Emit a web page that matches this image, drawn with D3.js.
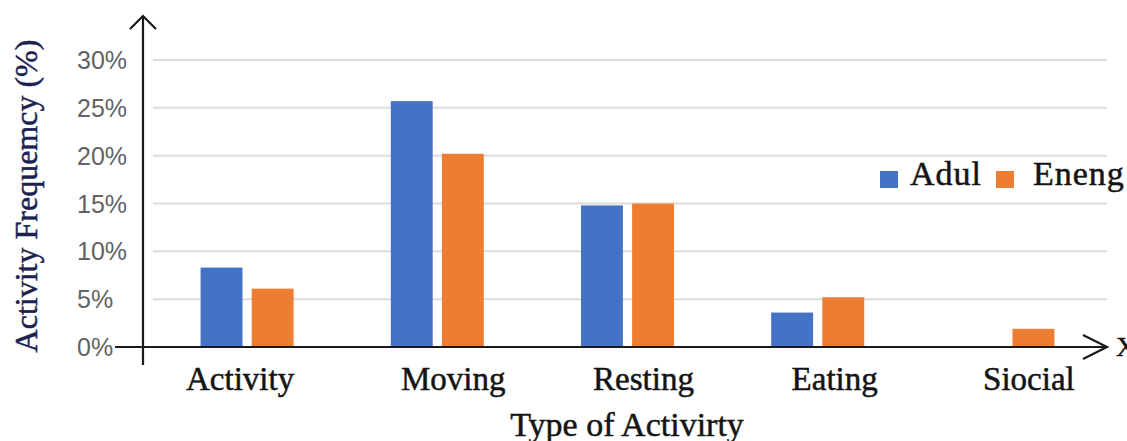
<!DOCTYPE html>
<html>
<head>
<meta charset="utf-8">
<script src="https://cdn.jsdelivr.net/npm/d3@7"></script>
<style>
  html, body { margin: 0; padding: 0; background: #fff; overflow: hidden; }
  svg { display: block; }
  .serif-label { stroke-width: 0.5px; paint-order: stroke; }
</style>
</head>
<body>
<svg id="chart" width="1127" height="441"></svg>
<script>
// Activity frequency (%) by activity type, for two groups
const categories = ["Activity", "Moving", "Resting", "Eating", "Siocial"];
const seriesNames = ["Adul", "Eneng"];
const adulValues = [8.3, 25.7, 14.8, 3.6, 0];
const enengValues = [6.1, 20.2, 15.0, 5.2, 1.9];
const yTicks = [0, 5, 10, 15, 20, 25, 30];

const colors = { Adul: "#4472C4", Eneng: "#ED7D31" };
const serif = "'Liberation Serif', 'Times New Roman', serif";
const sans = "'Liberation Sans', Arial, sans-serif";
const textColor = "#141414";

const rows = categories.map((c, i) => ({ category: c, Adul: adulValues[i], Eneng: enengValues[i] }));

const svg = d3.select("#chart");

// plot geometry
const plotLeft = 152, plotRight = 1103, plotTop = 60, plotBottom = 347;

const x0 = d3.scaleBand().domain(categories).range([plotLeft, plotRight])
  .paddingInner(0.511).paddingOuter(0.2555);
const x1 = d3.scaleBand().domain(seriesNames).range([0, x0.bandwidth()])
  .paddingInner(0.18);
const y = d3.scaleLinear().domain([0, 30]).range([plotBottom, plotTop]);

// horizontal gridlines
svg.append("g")
  .selectAll("line")
  .data(yTicks.filter(t => t > 0))
  .join("line")
  .attr("x1", plotLeft + 1).attr("x2", 1107)
  .attr("y1", d => y(d)).attr("y2", d => y(d))
  .attr("stroke", "#dcdcdc").attr("stroke-width", 2);

// y tick labels (left aligned)
svg.append("g")
  .selectAll("text")
  .data(yTicks)
  .join("text")
  .attr("x", 77)
  .attr("y", d => y(d))
  .attr("dy", "0.36em")
  .attr("font-family", sans)
  .attr("font-size", 25)
  .attr("fill", "#636363")
  .text(d => d + "%");

// bars
const groups = svg.append("g")
  .selectAll("g")
  .data(rows)
  .join("g")
  .attr("transform", d => `translate(${x0(d.category)},0)`);

groups.selectAll("rect")
  .data(d => seriesNames.map(k => ({ key: k, value: d[k] })))
  .join("rect")
  .attr("x", d => x1(d.key))
  .attr("width", x1.bandwidth())
  .attr("y", d => y(d.value))
  .attr("height", d => y(0) - y(d.value))
  .attr("fill", d => colors[d.key]);

// axes with arrowheads
const axisColor = "#1a1a1a";
svg.append("line")
  .attr("x1", 115).attr("x2", 1107)
  .attr("y1", y(0)).attr("y2", y(0))
  .attr("stroke", axisColor).attr("stroke-width", 2.2);
svg.append("polyline")
  .attr("points", `1083,${y(0) - 12} 1107,${y(0)} 1083,${y(0) + 12}`)
  .attr("fill", "none").attr("stroke", axisColor).attr("stroke-width", 2.2);

svg.append("line")
  .attr("x1", 143).attr("x2", 143)
  .attr("y1", 16).attr("y2", 365)
  .attr("stroke", axisColor).attr("stroke-width", 2.2);
svg.append("polyline")
  .attr("points", "130,29 143,16 156,29")
  .attr("fill", "none").attr("stroke", axisColor).attr("stroke-width", 2.2);

// axis end label, running off the right edge
svg.append("text")
  .attr("class", "serif-label")
  .attr("x", 1116).attr("y", 356)
  .attr("font-family", serif).attr("font-size", 28)
  .attr("fill", textColor).attr("stroke", textColor)
  .text("X");

// category labels
const labelNudge = [-7, 16, 16, 17, 21];
svg.append("g")
  .selectAll("text")
  .data(categories)
  .join("text")
  .attr("class", "serif-label")
  .attr("x", (d, i) => x0(d) + x0.bandwidth() / 2 + labelNudge[i])
  .attr("y", 390)
  .attr("text-anchor", "middle")
  .attr("font-family", serif)
  .attr("font-size", 33)
  .attr("fill", textColor).attr("stroke", textColor)
  .text(d => d);

// axis titles
svg.append("text")
  .attr("class", "serif-label")
  .attr("x", 627).attr("y", 436)
  .attr("text-anchor", "middle")
  .attr("font-family", serif).attr("font-size", 34)
  .attr("fill", textColor).attr("stroke", textColor)
  .text("Type of Activirty");

svg.append("text")
  .attr("class", "serif-label")
  .attr("transform", "translate(37,196) rotate(-90)")
  .attr("text-anchor", "middle")
  .attr("font-family", serif).attr("font-size", 32)
  .attr("fill", "#1c2250").attr("stroke", "#1c2250")
  .text("Activity Frequemcy (%)");

// legend
const legendX = [880, 996];
const legend = svg.append("g")
  .selectAll("g")
  .data(seriesNames)
  .join("g")
  .attr("transform", (d, i) => `translate(${legendX[i]},171)`);
legend.append("rect")
  .attr("width", 18).attr("height", 17)
  .attr("fill", d => colors[d]);
legend.append("text")
  .attr("class", "serif-label")
  .attr("x", (d, i) => i === 0 ? 30 : 37)
  .attr("y", 14)
  .attr("font-family", serif).attr("font-size", 34)
  .attr("letter-spacing", 1)
  .attr("fill", textColor).attr("stroke", textColor)
  .text(d => d);
</script>
</body>
</html>
